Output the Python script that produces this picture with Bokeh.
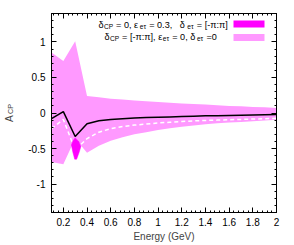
from bokeh.plotting import figure
from bokeh.models import (Range1d, LinearAxis, FixedTicker, Label, BoxAnnotation)
from bokeh.embed import file_html
from bokeh.resources import INLINE
import numpy as np

# ---------------- data ----------------
energy = [0.1, 0.2, 0.3, 0.4, 0.5, 0.6, 0.7, 0.8, 0.9, 1.0,
          1.1, 1.2, 1.3, 1.4, 1.5, 1.6, 1.7, 1.8, 1.9, 2.0]
band_upper = [0.85, 0.73, 1.01, 0.24, 0.22, 0.20, 0.19, 0.175, 0.165, 0.155,
              0.145, 0.135, 0.125, 0.12, 0.11, 0.10, 0.095, 0.085, 0.08, 0.072]
band_lower = [-0.69, -0.72, -0.36, -0.56, -0.46, -0.39, -0.34, -0.30, -0.27, -0.24,
              -0.215, -0.195, -0.175, -0.16, -0.145, -0.135, -0.125, -0.115, -0.105, -0.095]
acp_solid = [-0.08, 0.02, -0.33, -0.15, -0.11, -0.09, -0.08, -0.07, -0.065, -0.06,
             -0.055, -0.05, -0.045, -0.04, -0.037, -0.034, -0.031, -0.028, -0.025, -0.022]
acp_dashed = [-0.22, -0.09, -0.52, -0.36, -0.27, -0.22, -0.19, -0.17, -0.155, -0.14,
              -0.13, -0.12, -0.11, -0.105, -0.10, -0.095, -0.09, -0.085, -0.08, -0.075]
# dark band (delta_CP = 0, eps = 0.3) visible only around E = 0.3
dark_x = [0.300, 0.330, 0.348, 0.332, 0.312, 0.296, 0.280, 0.268, 0.282]
dark_y = [-0.35, -0.40, -0.47, -0.56, -0.65, -0.65, -0.55, -0.45, -0.39]

x_ticks = [0.2, 0.4, 0.6, 0.8, 1.0, 1.2, 1.4, 1.6, 1.8, 2.0]
x_tick_labels = ["0.2", "0.4", "0.6", "0.8", "1", "1.2", "1.4", "1.6", "1.8", "2"]
y_ticks = [-1.0, -0.5, 0.0, 0.5, 1.0]
y_tick_labels = ["-1", "-0.5", "0", "0.5", "1"]

NB = "\u00a0"
legend1 = [("δ", False), ("CP", True), (NB + "=" + NB + "0," + NB + "ε", False), ("eτ", True),
           (NB + "=" + NB + "0.3," + NB * 3 + "δ", False), ("eτ", True),
           (NB + "=" + NB + "[-π:π]", False)]
legend2 = [("δ", False), ("CP", True), (NB + "=" + NB + "[-π:π]," + NB + "ε", False),
           ("eτ", True), (NB + "=" + NB + "0," + NB + "δ", False), ("eτ", True),
           (NB + "=0", False)]
y_label_main = "A"
y_label_sub = "CP"

LIGHT = "#ff99ff"
DARK = "#ff00ff"
FONT = "Liberation Sans"

# ---------------- layout (canvas px; page has no margin) ----------------
X0, X1 = 0.1, 2.0
Y0, Y1 = -1.4, 1.4
W, H = 294, 245
FL, FR, FT, FB = 51, 276, 13, 212   # frame edges in canvas px

p = figure(width=W, height=H, output_backend="svg", toolbar_location=None,
           x_range=Range1d(X0, X1), y_range=Range1d(Y0, Y1),
           min_border_left=FL, min_border_right=W - FR,
           min_border_top=FT, min_border_bottom=H - FB,
           x_axis_label="Energy (GeV)")
p.grid.visible = False
p.outline_line_color = "black"
p.outline_line_width = 1
p.background_fill_color = "white"
p.border_fill_color = "white"

minor_x = [round(v, 3) for v in np.arange(0.08, 2.0001, 0.04)]
minor_y = [round(v, 3) for v in np.arange(-1.4, 1.4001, 0.1)]


def style_axis(ax, ticks, minor, labels, show):
    ax.ticker = FixedTicker(ticks=ticks, minor_ticks=minor)
    ax.axis_line_color = "black"
    ax.major_tick_line_color = "black"
    ax.minor_tick_line_color = "black"
    ax.major_tick_in = 5
    ax.major_tick_out = 0
    ax.minor_tick_in = 2
    ax.minor_tick_out = 0
    if show:
        ax.major_label_overrides = dict(zip(ticks, labels))
        ax.major_label_text_font = FONT
        ax.major_label_text_font_size = "10px"
        ax.major_label_text_color = "black"
    else:
        ax.major_label_text_color = None
        ax.major_label_text_font_size = "1px"
        ax.major_label_standoff = 0


style_axis(p.xaxis[0], x_ticks, minor_x, x_tick_labels, True)
style_axis(p.yaxis[0], y_ticks, minor_y, y_tick_labels, True)
p.xaxis[0].major_label_standoff = 5
p.yaxis[0].major_label_standoff = 6
p.xaxis[0].axis_label_text_font = FONT
p.xaxis[0].axis_label_text_font_size = "10px"
p.xaxis[0].axis_label_text_font_style = "normal"
p.xaxis[0].axis_label_standoff = 2

# subscript part of the y label on the main y axis
p.yaxis[0].axis_label = NB * 4 + y_label_sub
p.yaxis[0].axis_label_text_font = FONT
p.yaxis[0].axis_label_text_font_size = "7.2px"
p.yaxis[0].axis_label_text_font_style = "normal"
p.yaxis[0].axis_label_standoff = 10

# main letter of the y label on an outer, otherwise empty axis
outer = LinearAxis(ticker=FixedTicker(ticks=[], minor_ticks=[]),
                   axis_line_color=None, major_tick_line_color=None,
                   minor_tick_line_color=None, major_label_text_color=None,
                   major_label_text_font_size="1px", major_label_standoff=0,
                   major_tick_in=0, major_tick_out=0, minor_tick_in=0, minor_tick_out=0,
                   axis_label=y_label_main + NB * 4, axis_label_text_font=FONT,
                   axis_label_text_font_size="10px", axis_label_text_font_style="normal",
                   axis_label_standoff=-11)
p.add_layout(outer, "left")

top_ax = LinearAxis()
right_ax = LinearAxis()
style_axis(top_ax, x_ticks, minor_x, x_tick_labels, False)
style_axis(right_ax, y_ticks, minor_y, y_tick_labels, False)
p.add_layout(top_ax, "above")
p.add_layout(right_ax, "right")

# ---------------- glyphs ----------------
p.varea(x=energy, y1=band_lower, y2=band_upper, fill_color=LIGHT, fill_alpha=1)
p.line(energy, acp_dashed, line_color="white", line_width=1.5, line_dash="4 3")
p.patch(dark_x, dark_y, fill_color=DARK, line_color=DARK, line_width=0.5)
p.line(energy, acp_solid, line_color="black", line_width=1.5)

# ---------------- legend (canvas px -> data) ----------------


def dx(px):
    return X0 + (px - FL) / (FR - FL) * (X1 - X0)


def dy(py):
    return Y1 - (py - FT) / (FB - FT) * (Y1 - Y0)


WID = {' ': 278, NB: 278, ',': 278, '.': 278, '0': 556, '3': 556, '=': 584, '[': 278,
       ']': 278, '-': 333, ':': 278, 'C': 722, 'P': 667, 'e': 556, 'δ': 556,
       'ε': 446, 'τ': 441, 'π': 573, 'A': 667}
ADV = 1.065   # measured rendering factor vs. the metric table


def text_w(s, fs):
    return ADV * sum(WID.get(c, 556) for c in s) * fs / 1000.0


def rich_line(parts, x_px, base_px, fs=9.1):
    x = x_px
    for txt, sub in parts:
        size = fs * 0.72 if sub else fs
        b = base_px + (fs * 0.25 if sub else 0)
        p.add_layout(Label(x=dx(x), y=dy(b), text=txt, text_font=FONT,
                           text_font_size=f"{size:.1f}px", text_color="black",
                           text_align="left", text_baseline="alphabetic"))
        x += text_w(txt, size)


rich_line(legend1, 98, 24)
rich_line(legend2, 104, 36)

p.add_layout(BoxAnnotation(left=dx(233), right=dx(264), top=dy(20), bottom=dy(27),
                           fill_color=DARK, fill_alpha=1, line_color=None))
p.add_layout(BoxAnnotation(left=dx(233), right=dx(264), top=dy(33.5), bottom=dy(40.5),
                           fill_color=LIGHT, fill_alpha=1, line_color=None))

open("out.html", "w").write(file_html(p, INLINE))
